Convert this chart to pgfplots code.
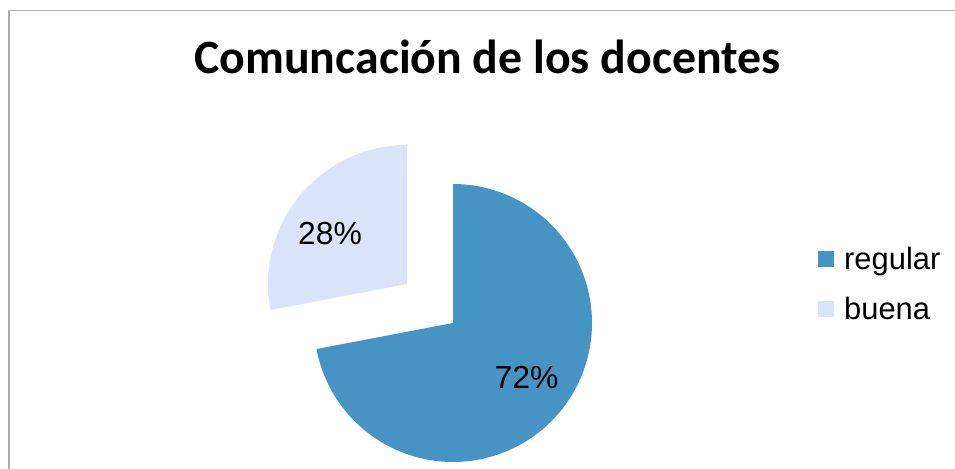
\documentclass[border=0pt]{standalone}
\usepackage{fontspec}
\setmainfont{Liberation Sans}
\newfontfamily\carlito{Carlito}
\usepackage{pgfplots}
\pgfplotsset{compat=1.18}
\definecolor{cReg}{HTML}{4694C4}
\definecolor{cBue}{HTML}{DAE3F8}
\definecolor{cFrame}{HTML}{ABABAB}
% data (percent)
\def\vReg{72}
\def\vBue{28}
\pgfmathsetmacro\aReg{90-3.6*\vReg}
\pgfmathsetmacro\aBue{90+3.6*\vBue}
\begin{document}
\begin{tikzpicture}
\begin{axis}[
  width=955bp, height=469bp, scale only axis,
  xmin=0, xmax=955, ymin=0, ymax=469,
  hide axis, clip=false,
  legend style={at={(axis cs:818,224)}, anchor=north west, draw=none, fill=none,
    font=\fontsize{31}{31}\selectfont, row sep=22bp, inner sep=0pt,
    /tikz/every odd column/.append style={column sep=8bp}},
  legend cell align=left,
  legend image code/.code={\fill[#1] (0bp,-8bp) rectangle (16bp,8bp);},
]
\draw[cFrame, line width=1.6bp] (axis cs:9,0) -- (axis cs:9,458.5) -- (axis cs:955,458.5);
% regular slice
\addplot[fill=cReg, draw=none, domain=\aReg:90, samples=120, variable=\t]
  ({453+139*cos(\t)}, {146+139*sin(\t)}) -- (axis cs:453,146) -- cycle;
\addlegendentry{regular}
% buena slice (exploded)
\addplot[fill=cBue, draw=none, domain=90:\aBue, samples=80, variable=\t]
  ({407+139*cos(\t)}, {185+139*sin(\t)}) -- (axis cs:407,185) -- cycle;
\addlegendentry{buena}
\node[font=\fontsize{32}{32}\selectfont, anchor=center] at (axis cs:330,235.5) {\vBue\%};
\node[font=\fontsize{32}{32}\selectfont, anchor=center] at (axis cs:526.5,92) {\vReg\%};
\node[font=\carlito\bfseries\fontsize{48}{48}\selectfont, anchor=base] at (axis cs:487.5,395) {Comuncación de los docentes};
\end{axis}
\pgfresetboundingbox
\path[use as bounding box] (current axis.south west) rectangle (current axis.north east);
\end{tikzpicture}
\end{document}
